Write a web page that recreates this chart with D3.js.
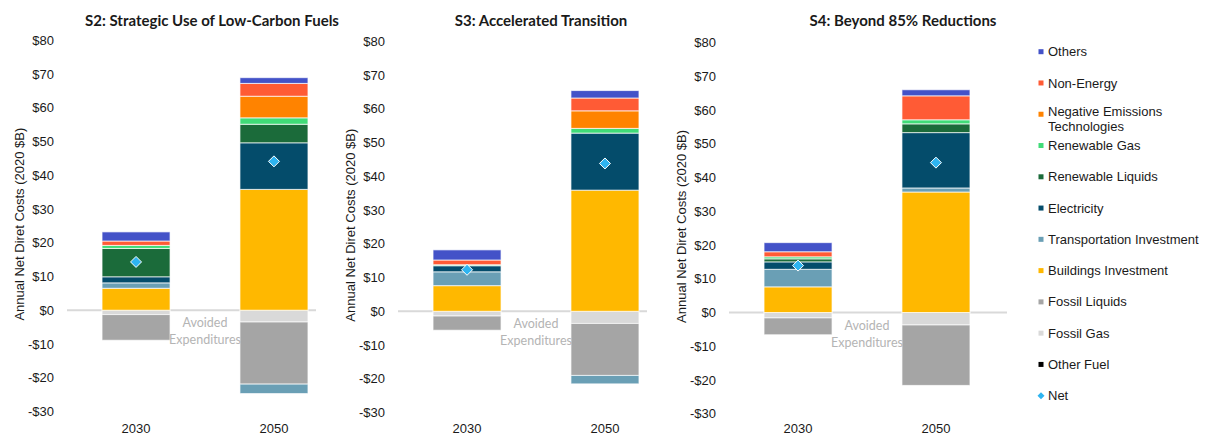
<!DOCTYPE html>
<html><head><meta charset="utf-8">
<script src="https://cdn.jsdelivr.net/npm/d3@7"></script>
<style>
html,body{margin:0;padding:0;background:#fff;}
svg{display:block;}
</style></head>
<body>
<svg id="chart" width="1206" height="434"></svg>
<script>
// ---------- DATA ----------
const years = ["2030", "2050"];
const scenarios = ["S2: Strategic Use of Low-Carbon Fuels", "S3: Accelerated Transition", "S4: Beyond 85% Reductions"];
const yTicks = [-30, -20, -10, 0, 10, 20, 30, 40, 50, 60, 70, 80];
// each array: [S2 2030, S2 2050, S3 2030, S3 2050, S4 2030, S4 2050]  (2020 $B)
const otherFuel         = [0, 0, 0, 0, 0, 0];
const fossilGas         = [-1.3, -3.5, -1.4, -3.6, -1.6, -3.7];
const fossilLiquids     = [-7.6, -18.4, -4.2, -15.4, -5.0, -17.9];
const buildings         = [6.5, 35.8, 7.6, 35.9, 7.6, 35.7];
const transportation    = [1.6, -2.8, 4.1, -2.5, 5.2, 1.2];
const electricity       = [1.8, 13.8, 1.8, 16.9, 2.2, 16.4];
const renewableLiquids  = [8.4, 5.5, 0, 0, 0.9, 2.6];
const renewableGas      = [0.9, 1.9, 0.3, 1.4, 0.6, 1.2];
const negativeEmissions = [0, 6.4, 0, 5.2, 0, 0];
const nonEnergy         = [1.3, 3.8, 1.4, 3.8, 1.5, 7.1];
const others            = [2.7, 1.7, 3.0, 2.2, 2.7, 1.8];
const net               = [14.3, 44.1, 12.3, 43.8, 13.9, 44.4];

// stacking order (first = closest to zero)
const seriesNames = ["Other Fuel", "Fossil Gas", "Fossil Liquids", "Buildings Investment", "Transportation Investment",
  "Electricity", "Renewable Liquids", "Renewable Gas", "Negative Emissions Technologies", "Non-Energy", "Others"];
const seriesValues = [otherFuel, fossilGas, fossilLiquids, buildings, transportation,
  electricity, renewableLiquids, renewableGas, negativeEmissions, nonEnergy, others];
const seriesColors = ["#000000", "#D9D9D9", "#A5A5A5", "#FFB800", "#6A9FB5",
  "#044C6B", "#1B6B3A", "#40DC78", "#FF8300", "#FF5B35", "#4352C8"];
const netColor = "#2EB4F0";

// legend order (top to bottom)
const legendNames = ["Others", "Non-Energy", "Negative Emissions Technologies", "Renewable Gas", "Renewable Liquids",
  "Electricity", "Transportation Investment", "Buildings Investment", "Fossil Liquids", "Fossil Gas", "Other Fuel", "Net"];

// ---------- LAYOUT ----------
const panels = [
  {left: 67,  zeroY: 310.2, titleX: 212, zeroRight: 316},
  {left: 398, zeroY: 311.3, titleX: 541, zeroRight: 647},
  {left: 729, zeroY: 312.5, titleX: 903, zeroRight: 1007}
];
const pxPerUnit = 3.375;

const svg = d3.select("#chart");
const color = d3.scaleOrdinal().domain(seriesNames).range(seriesColors);

scenarios.forEach((title, p) => {
  const L = panels[p];
  const rows = years.map((yr, j) => {
    const r = {year: yr};
    seriesNames.forEach((s, k) => r[s] = seriesValues[k][p * 2 + j]);
    r.net = net[p * 2 + j];
    return r;
  });

  const x = d3.scaleBand().domain(years).range([L.left, L.left + 276])
    .paddingInner(0.507).paddingOuter(0.254);
  const y = d3.scaleLinear().domain([-30, 80])
    .range([L.zeroY + 30 * pxPerUnit, L.zeroY - 80 * pxPerUnit]);

  const g = svg.append("g");

  // title
  g.append("text").attr("x", L.titleX).attr("y", 25.5)
    .attr("text-anchor", "middle")
    .style("font-family", "Lato, 'Open Sans', sans-serif").style("font-weight", "bold")
    .style("font-size", "15px").style("fill", "#1a1a1a").text(title);

  // y axis (labels only)
  const yAxis = d3.axisLeft(y).tickValues(yTicks).tickSize(0).tickPadding(0)
    .tickFormat(d => (d < 0 ? "-$" : "$") + Math.abs(d));
  const ag = g.append("g").attr("transform", `translate(${L.left - 13},0)`).call(yAxis);
  ag.select(".domain").remove();
  ag.selectAll("text").style("font-family", "'Liberation Sans', Arial, sans-serif")
    .style("font-size", "13px").style("fill", "#1a1a1a");

  // y axis title
  g.append("text")
    .attr("transform", `translate(${L.left - 48},${y(25.5)}) rotate(-90)`)
    .attr("text-anchor", "middle").attr("dy", "0.35em")
    .style("font-family", "'Liberation Sans', Arial, sans-serif")
    .style("font-size", "13px").style("fill", "#1a1a1a")
    .text("Annual Net Diret Costs (2020 $B)");

  // zero line
  g.append("line").attr("x1", x.range()[0]).attr("x2", L.zeroRight)
    .attr("y1", y(0)).attr("y2", y(0)).attr("stroke", "#D9D9D9").attr("stroke-width", 2);

  // stacked bars
  const stack = d3.stack().keys(seriesNames).offset(d3.stackOffsetDiverging);
  const layers = stack(rows);
  g.selectAll("g.layer").data(layers).join("g").attr("class", "layer")
    .attr("fill", d => color(d.key))
    .selectAll("rect").data(d => d.filter(e => e[1] - e[0] !== 0)).join("rect")
    .attr("x", d => x(d.data.year))
    .attr("width", x.bandwidth())
    .attr("y", d => y(Math.max(d[0], d[1])))
    .attr("height", d => Math.abs(y(d[0]) - y(d[1])))
    .attr("stroke", "#ffffff").attr("stroke-opacity", 0.7).attr("stroke-width", 1);

  // net diamonds
  g.selectAll("path.net").data(rows).join("path").attr("class", "net")
    .attr("transform", d => `translate(${x(d.year) + x.bandwidth() / 2},${y(d.net)})`)
    .attr("d", "M0,-5.5L5.5,0L0,5.5L-5.5,0Z")
    .attr("fill", netColor).attr("stroke", "#ffffff").attr("stroke-width", 1);

  // category labels
  g.selectAll("text.cat").data(years).join("text").attr("class", "cat")
    .attr("x", d => x(d) + x.bandwidth() / 2).attr("y", 432.5)
    .attr("text-anchor", "middle")
    .style("font-family", "'Liberation Sans', Arial, sans-serif")
    .style("font-size", "13px").style("fill", "#1a1a1a").text(d => d);

  // Avoided Expenditures annotation
  const ax = (x(years[0]) + x.bandwidth() + x(years[1])) / 2;
  const at = g.append("text").attr("x", ax).attr("text-anchor", "middle")
    .style("font-family", "Lato, 'Open Sans', sans-serif").style("font-size", "12.5px").style("fill", "#B4B4B4");
  at.append("tspan").attr("x", ax).attr("y", y(0) + 17).text("Avoided");
  at.append("tspan").attr("x", ax).attr("y", y(0) + 34).text("Expenditures");
});

// ---------- LEGEND ----------
const lg = svg.append("g");
const ly = d3.scalePoint().domain(legendNames).range([51.7, 395.7]);
legendNames.forEach(name => {
  const cy = ly(name);
  if (name === "Net") {
    lg.append("path").attr("transform", `translate(1041,${cy})`)
      .attr("d", "M0,-3.5L3.5,0L0,3.5L-3.5,0Z").attr("fill", netColor);
  } else {
    lg.append("rect").attr("x", 1038.5).attr("y", cy - 2.5).attr("width", 5).attr("height", 5)
      .attr("fill", color(name));
  }
  const t = lg.append("text").attr("x", 1048).attr("y", cy).attr("dy", "0.35em")
    .style("font-family", "'Liberation Sans', Arial, sans-serif").style("font-size", "13px").style("fill", "#1a1a1a");
  if (name === "Negative Emissions Technologies") {
    t.attr("y", cy - 3);
    t.append("tspan").attr("x", 1048).text("Negative Emissions");
    t.append("tspan").attr("x", 1048).attr("dy", "15").text("Technologies");
  } else {
    t.text(name);
  }
});
</script>
</body></html>
